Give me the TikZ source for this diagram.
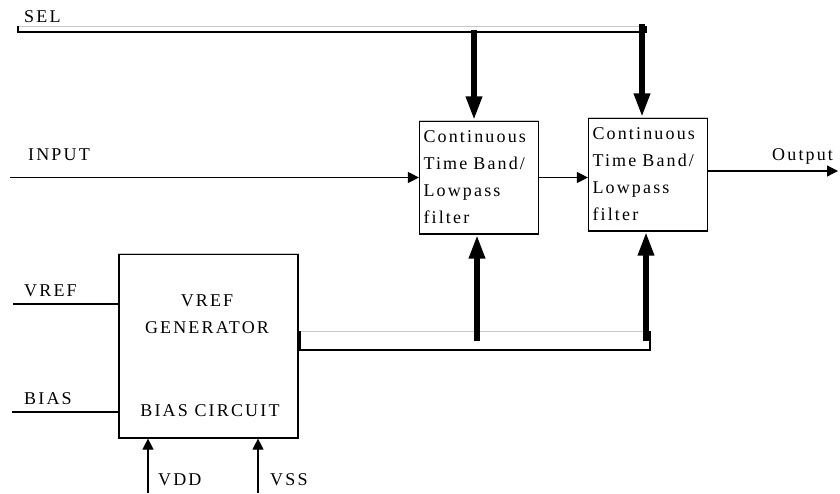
\documentclass[tikz,border=0pt]{standalone}
\usepackage{fontspec}
\setmainfont{Liberation Serif}[LetterSpace=12]
\usetikzlibrary{positioning,arrows.meta,calc}
\definecolor{busgray}{HTML}{C8C8C8}

\begin{document}
\begin{tikzpicture}[
    x=1pt, y=-1pt,
    font=\fontsize{18}{27}\selectfont,
    >={Triangle[length=11pt,width=11pt]},
    box/.style={rectangle, draw, line width=1.2pt, inner sep=0pt},
    filt/.style={box, minimum width=119pt, minimum height=113pt,
                 align=left, text width=111pt},
    lbl/.style={anchor=base west, inner sep=0pt},
    wire/.style={line width=1.2pt},
    sig/.style={->, wire},
    ctrl/.style={-{Triangle[length=24pt,width=15pt]}, line width=6pt},
    topedge/.style={draw=busgray, line width=1.4pt},
]
\useasboundingbox (0,0) rectangle (840,493);

% ---------------- Filter chain ----------------
\node[filt] (filt1) at (479,177.5) {Continuous\\Time Band/\\Lowpass\\filter};
\node[filt] (filt2) at (648,174.5) {Continuous\\Time Band/\\Lowpass\\filter};

\node[lbl] (input) at (28,160) {INPUT};
\node[lbl] (output) at (772,160) {Output};

\coordinate (inL) at (10,177.5);
\coordinate (outR) at (838,171);
\draw[sig] (inL) -- (filt1.west);
\draw[sig] (filt1.east) -- (filt1.east -| filt2.west);
\draw[sig] (filt2.east |- outR) -- (outR);

% ---------------- VREF generator / bias ----------------
\node[box, minimum width=179pt, minimum height=184pt] (gen) at (208.5,346) {};
\node[align=center, inner sep=0pt, anchor=base] (gentxt) at (207,333)
  {VREF\\GENERATOR};
\node[inner sep=0pt, anchor=base] (biastxt) at (210,416) {BIAS CIRCUIT};

\node[lbl] (vref) at (24,296) {VREF};
\node[lbl] (bias) at (24,404) {BIAS};
\node[lbl] (vdd) at (158,485) {VDD};
\node[lbl] (vss) at (270,485) {VSS};

\coordinate (vrefL) at (13,304);
\coordinate (biasL) at (12,412);
\draw[wire] (vrefL) -- (vrefL -| gen.west);
\draw[wire] (biasL) -- (biasL -| gen.west);

\coordinate (vddB) at (148,493);
\coordinate (vssB) at (258,493);
\foreach \p in {vddB, vssB}
  \draw[sig] (\p) -- (\p |- gen.south);

\foreach \n in {filt1, filt2, gen}
  \draw[topedge] (\n.north west) -- (\n.north east);

% ---------------- SEL bus ----------------
\node[lbl] (sel) at (24,22) {SEL};
\coordinate (selL) at (18,26);
\coordinate (selR) at (646,32);
\draw[topedge, line width=1pt] (selL) -- (selR |- selL);
\draw[wire] (selL) -- (selL |- selR) -- (selR) -- (selR |- selL);

\coordinate (sel1) at (474,30);
\coordinate (sel2) at (642,24);

% ---------------- Reference bus ----------------
\coordinate (busL) at (300,331);
\coordinate (busR) at (650,350);
\draw[topedge, line width=1pt] (busL) -- (busR |- busL);
\draw[wire] (busL) -- (busL |- busR) -- (busR) -- (busR |- busL);

\coordinate (up1) at (477,341);
\coordinate (up2) at (646,341);

\foreach \c/\b in {sel1/filt1.north, sel2/filt2.north, up1/filt1.south, up2/filt2.south}
  \draw[ctrl] (\c) -- (\c |- \b);

\end{tikzpicture}
\end{document}
